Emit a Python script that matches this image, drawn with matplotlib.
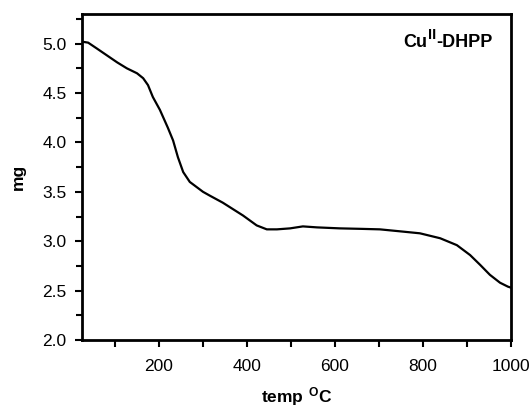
import matplotlib
matplotlib.use("Agg")
import matplotlib.pyplot as plt
from matplotlib.ticker import MultipleLocator, FormatStrFormatter

plt.rcParams['font.family'] = ['Liberation Sans', 'DejaVu Sans']
plt.rcParams['mathtext.fontset'] = 'custom'
plt.rcParams['mathtext.rm'] = 'Liberation Sans'
plt.rcParams['mathtext.bf'] = 'Liberation Sans:bold'

# TGA curve
temp = [25, 39, 59, 82, 105, 127, 150, 164, 175, 186, 202, 220, 232, 243, 255,
        270, 285, 300, 316, 345, 391, 422, 445, 468, 498, 527, 559, 611, 660,
        702, 748, 793, 839, 877, 907, 930, 952, 975, 993, 1000]
mass = [5.02, 5.01, 4.95, 4.88, 4.81, 4.75, 4.70, 4.65, 4.58, 4.46, 4.33, 4.15,
        4.02, 3.85, 3.70, 3.60, 3.55, 3.50, 3.46, 3.39, 3.26, 3.16, 3.12, 3.12,
        3.13, 3.15, 3.14, 3.13, 3.125, 3.12, 3.10, 3.08, 3.03, 2.96, 2.86, 2.76,
        2.66, 2.58, 2.54, 2.53]

fig = plt.figure(figsize=(5.32, 4.09), dpi=100)
ax = fig.add_axes([82 / 532, 1 - 340 / 409, (511 - 82) / 532, (340 - 14) / 409])

ax.plot(temp, mass, color='black', lw=1.6, solid_joinstyle='round')

ax.set_xlim(25, 1000)
ax.set_ylim(2.0, 5.3)
ax.xaxis.set_major_locator(MultipleLocator(200))
ax.xaxis.set_minor_locator(MultipleLocator(100))
ax.yaxis.set_major_locator(MultipleLocator(0.5))
ax.yaxis.set_minor_locator(MultipleLocator(0.25))
ax.yaxis.set_major_formatter(FormatStrFormatter('%.1f'))

for s in ax.spines.values():
    s.set_linewidth(2)
ax.tick_params(which='both', direction='out', width=1.5, labelsize=12.5)
ax.tick_params(axis='y', which='major', length=5, pad=6)
ax.tick_params(axis='y', which='minor', length=4)
ax.tick_params(axis='x', which='both', length=5, pad=9)

ax.set_ylabel('mg', fontsize=12.5, fontweight='bold', labelpad=12)
ax.set_xlabel(r'$\mathbf{temp\ ^{O}C}$', fontsize=12.5, labelpad=8)

# sample label: Cu, raised II, -DHPP
t1 = ax.text(0.748, 0.885, 'Cu', transform=ax.transAxes, ha='left',
             va='bottom', fontsize=13, fontweight='bold')
t2 = ax.annotate('II', xy=(1, 0), xycoords=t1, xytext=(0.5, 7),
                 textcoords='offset points', ha='left', va='bottom',
                 fontsize=10.5, fontweight='bold')
ax.annotate('-DHPP', xy=(1, 0), xycoords=t2, xytext=(0, -7),
            textcoords='offset points', ha='left', va='bottom',
            fontsize=13, fontweight='bold')

fig.savefig('out.png', dpi=100)
